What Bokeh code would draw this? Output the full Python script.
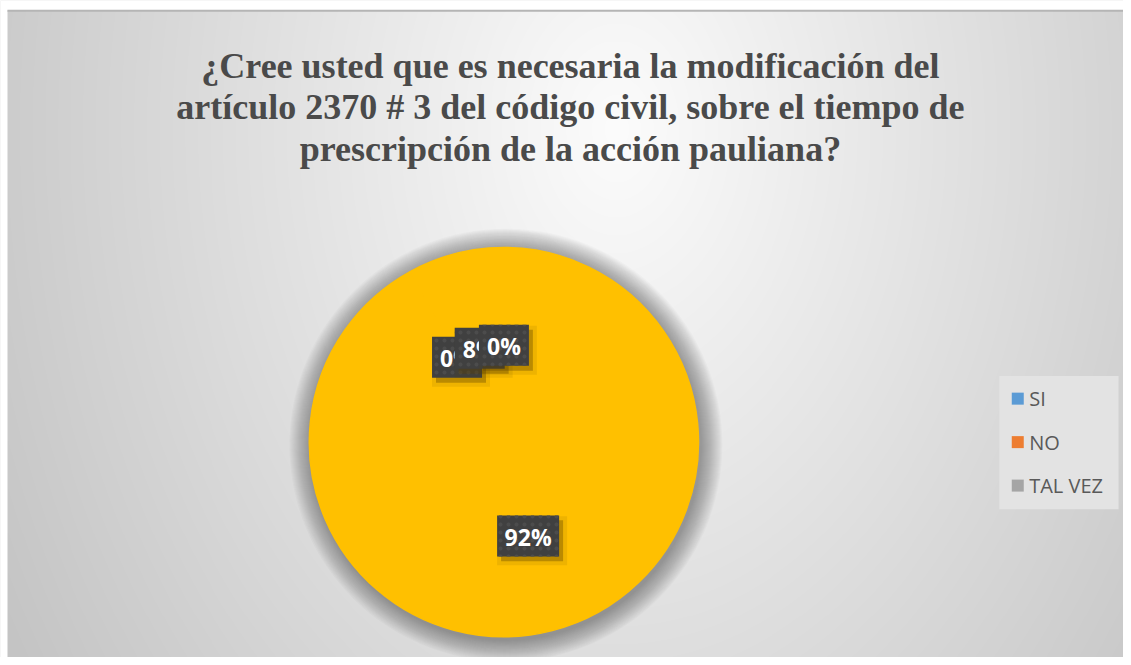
import numpy as np
from bokeh.plotting import figure
from bokeh.models import Range1d
from bokeh.core.properties import value
from bokeh.embed import file_html
from bokeh.resources import INLINE

# ---------------- data ----------------
TITLE_LINES = [
    "¿Cree usted que es necesaria la modificación del",
    "artículo 2370 # 3 del código civil, sobre el tiempo de",
    "prescripción de la acción pauliana?",
]
categories = ["SI", "NO", "TAL VEZ", ""]
percent = [0, 8, 0, 92]
legend_names = ["SI", "NO", "TAL VEZ"]
legend_colors = ["#5B9BD5", "#ED7D31", "#A5A5A5"]
slice_colors = ["#FFC000", "#FFC000", "#FFC000", "#FFC000"]
label_texts = [f"{v}%" for v in percent]

# ---------------- layout ----------------
W, H = 1123, 657          # figure size in px
RW, RH = 1131, 665        # reference coordinate system


def sy(y):  # reference y (from top) -> data y
    return RH - y


p = figure(width=W, height=H, output_backend="svg", toolbar_location=None,
           x_range=Range1d(0, RW), y_range=Range1d(0, RH), min_border=0)
p.axis.visible = False
p.grid.visible = False
p.outline_line_color = None
p.background_fill_color = "#e8e8e8"
p.border_fill_color = "white"

# background gradient
yy, xx = np.mgrid[0:RH, 0:RW].astype(float)
scr_x = xx
scr_y = RH - 1 - yy
d = np.sqrt(((scr_x - 620) / 640.0) ** 2 + ((scr_y - 130) / 900.0) ** 2)
d = np.clip(d, 0, 1.12)
g = (252 - 50 * d).astype(np.uint8)
img = np.empty((RH, RW), dtype=np.uint32)
view = img.view(dtype=np.uint8).reshape((RH, RW, 4))
view[:, :, 0] = g
view[:, :, 1] = g
view[:, :, 2] = g
view[:, :, 3] = 255
view[scr_y < 10] = [255, 255, 255, 255]
view[scr_x < 7] = [255, 255, 255, 255]
p.image_rgba(image=[img], x=0, y=0, dw=RW, dh=RH)
# top border line
p.segment(x0=[7], y0=[sy(10.5)], x1=[RW], y1=[sy(10.5)], line_color="#b5b5b5", line_width=2)

# title
for i, line in enumerate(TITLE_LINES):
    p.text(x=[574], y=[sy(66 + 42 * i)], text=[line], text_align="center",
           text_baseline="alphabetic", text_font=value("Liberation Serif"),
           text_font_style="bold", text_font_size="36px", text_color="#4a4a4a")

# pie
cx, cy, R = 507, sy(447), 196
FIRST_SLICE = 331.2  # degrees clockwise from 12 o'clock
vals = np.array(percent, dtype=float)
frac = vals / vals.sum()
cum = np.concatenate([[0], np.cumsum(frac)]) * 360.0
a0 = FIRST_SLICE + cum[:-1]
a1 = FIRST_SLICE + cum[1:]
mid = (a0 + a1) / 2.0

# soft shadow
for k in range(22, 0, -1):
    p.circle(x=[cx + 2], y=[cy - 3], radius=R + k, fill_color="#3a3a3a",
             fill_alpha=0.028, line_color=None)

start = np.radians(90 - a0)
end = np.radians(90 - a1)
keep = frac > 0
p.wedge(x=cx, y=cy, radius=R, start_angle=list(start[keep]), end_angle=list(end[keep]),
        direction="clock", fill_color=list(np.array(slice_colors)[keep]),
        line_color=list(np.array(slice_colors)[keep]), line_width=1.5)

# data labels
lr = R * 0.5
lx = cx + lr * np.sin(np.radians(mid))
ly = cy + lr * np.cos(np.radians(mid))
for i in range(len(percent)):
    txt = label_texts[i]
    bw = 62 if len(txt) > 2 else 50
    bh = 41
    p.rect(x=[lx[i] + 4], y=[ly[i] - 5], width=bw + 8, height=bh + 8, width_units="screen",
           height_units="screen", fill_color="#5a4000", fill_alpha=0.10, line_color=None)
    p.rect(x=[lx[i] + 4], y=[ly[i] - 5], width=bw, height=bh, width_units="screen",
           height_units="screen", fill_color="#5a4000", fill_alpha=0.35, line_color=None)
    p.rect(x=[lx[i]], y=[ly[i]], width=bw, height=bh, width_units="screen",
           height_units="screen", fill_color="#404040", line_color=None,
           hatch_pattern="dot", hatch_color="#4c4c4c", hatch_scale=8, hatch_weight=1.5)
    p.text(x=[lx[i]], y=[ly[i] - 1], text=[txt], text_align="center", text_baseline="middle",
           text_font=value("Open Sans"), text_font_style="bold", text_font_size="23px",
           text_color="white")

# legend
p.quad(left=[1006], right=[1126], top=[sy(380)], bottom=[sy(515)],
       fill_color="#e3e3e3", line_color=None)
ly_leg = [403, 447, 491]
for i, name in enumerate(legend_names):
    p.rect(x=[1024.5], y=[sy(ly_leg[i])], width=12, height=12, width_units="screen",
           height_units="screen", fill_color=legend_colors[i], line_color=None)
    p.text(x=[1036], y=[sy(ly_leg[i])], text=[name], text_align="left", text_baseline="middle",
           text_font=value("Open Sans"), text_font_size="20px", text_color="#595959")

open("out.html", "w").write(file_html(p, INLINE))
